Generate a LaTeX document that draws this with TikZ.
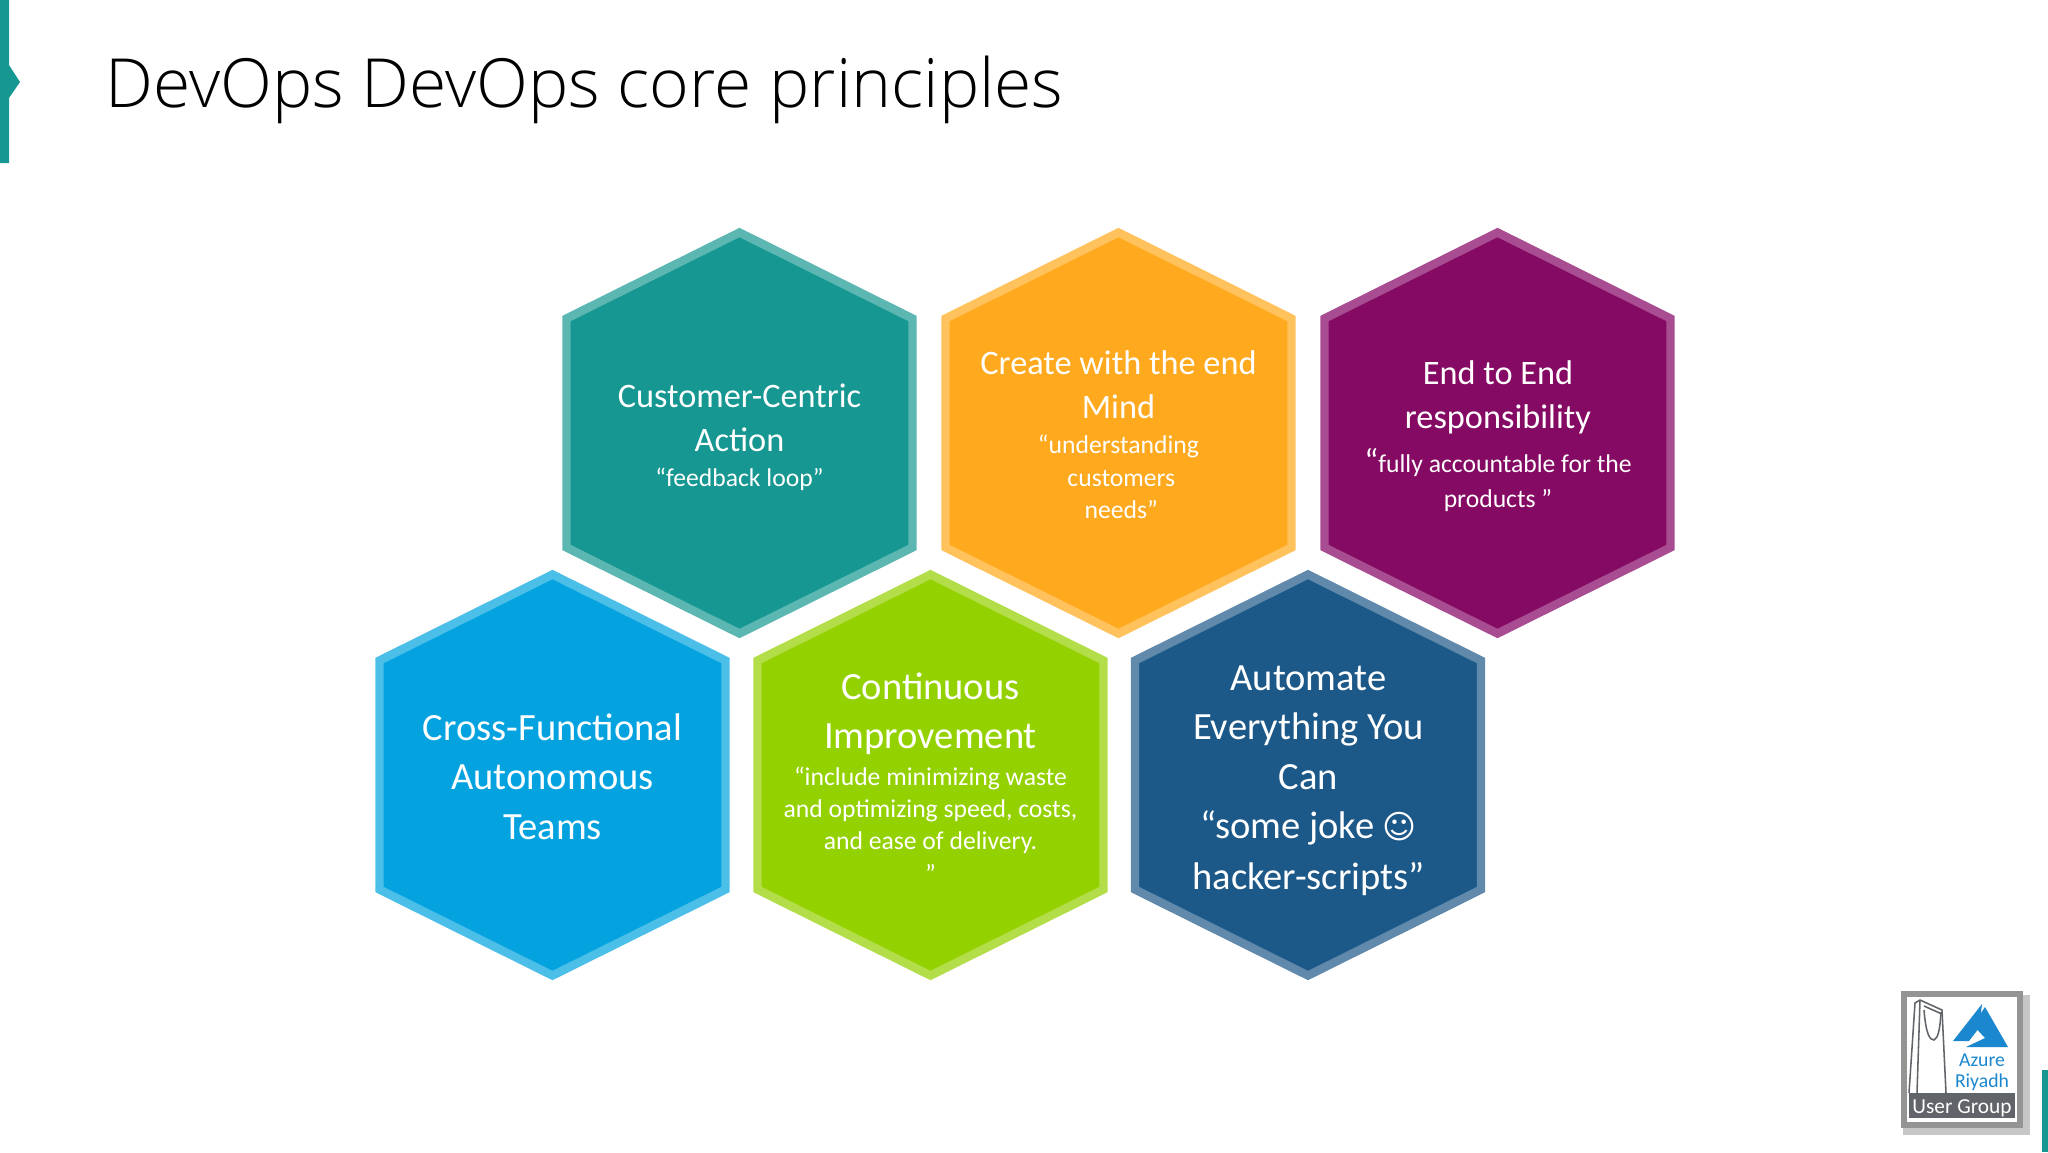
\documentclass[tikz,border=0pt]{standalone}
\usepackage{fontspec}
\setmainfont{Carlito}
\newfontfamily\titlefont{Open Sans Light}
\newfontfamily\smileyfont{DejaVu Sans}
\definecolor{custCol}{HTML}{169792}
\definecolor{custEdge}{HTML}{5CB6B2}
\definecolor{endCol}{HTML}{FFA91F}
\definecolor{endEdge}{HTML}{FFC25C}
\definecolor{respCol}{HTML}{850A64}
\definecolor{respEdge}{HTML}{A94D92}
\definecolor{crossCol}{HTML}{04A3E0}
\definecolor{crossEdge}{HTML}{4CBFE9}
\definecolor{contCol}{HTML}{94D100}
\definecolor{contEdge}{HTML}{B3DE4A}
\definecolor{autoCol}{HTML}{1C5888}
\definecolor{autoEdge}{HTML}{6089AB}
\definecolor{azureBlue}{HTML}{1A87CE}
\definecolor{logoGrey}{HTML}{616469}
\newcommand{\headM}{\fontsize{12.2}{15}\selectfont}
\newcommand{\headL}{\fontsize{13.7}{17}\selectfont}
\newcommand{\subS}{\fontsize{9.12}{11}\selectfont}
\tikzset{
  hexcell/.style={line width=3pt,miter limit=10,line join=miter},
  hextext/.style={text=white,align=center,inner sep=0pt},
  logotext/.style={text=azureBlue,inner sep=0pt,font=\fontsize{7}{8}\selectfont},
  towerline/.style={draw=logoGrey,line width=0.55pt}
}
\begin{document}
\begin{tikzpicture}[x=0.0125cm,y=-0.0125cm]
\useasboundingbox (0,0) rectangle (2048,1152);
% slide marks
\fill[custCol] (0,0) -- (9,0) -- (9,65) -- (20,82) -- (9,98) -- (9,163) -- (0,163) -- cycle;
\fill[custCol] (2042,1070) rectangle (2048,1152);
\node[anchor=base west,inner sep=0pt,font=\titlefont\fontsize{24.1}{29}\selectfont] (title) at (105,107) {DevOps DevOps core principles};
% hexagons
\foreach \px/\py/\hue in {739.5/433/cust,1118.5/433/end,1497.5/433/resp,552.5/775/cross,930.5/775/cont,1308/775/auto}
  \draw[hexcell,fill=\hue Col,draw=\hue Edge] (\px,\py-200.5) -- (\px+173,\py-114.5) -- (\px+173,\py+114.5) -- (\px,\py+200.5) -- (\px-173,\py+114.5) -- (\px-173,\py-114.5) -- cycle;

\node[hextext] (cust) at (739.5,437) {\headM Customer-Centric\\[3.7pt]\headM Action\\[0.5pt]\subS “feedback loop”};
\node[hextext] (end) at (1118.5,434.7) {\headM Create with the end\\[3.5pt]\headM Mind\\[0.7pt]\subS “understanding\\[-0.5pt]\subS\hspace*{2pt}customers\\[-0.5pt]\subS\hspace*{2pt}needs”};
\node[hextext] (resp) at (1498,436) {\headM End to End\\[3.7pt]\headM responsibility\\[3.5pt]\subS {\fontsize{11.9}{11}\selectfont “}fully accountable for the\\[0.5pt]\subS products ”};
\node[hextext] (cross) at (552.5,776.5) {\headL Cross-Functional\\[5.6pt]\headL Autonomous\\[5.6pt]\headL Teams};
\node[hextext] (cont) at (930.5,777.3) {\headL Continuous\\[5.6pt]\headL Improvement\\[0.9pt]\subS “include minimizing waste\\[-0.5pt]\subS and optimizing speed, costs,\\[-0.5pt]\subS and ease of delivery.\\[-0.5pt]\subS ”};
\node[hextext] (auto) at (1308.5,780.5) {\headL Automate\\[5.6pt]\headL Everything You\\[5.6pt]\headL Can\\[5.6pt]\headL “some joke {\smileyfont\fontsize{11.6}{17}\selectfont ☺}\\[4.8pt]\headL hacker-scripts”};
% logo
\fill[black!22] (1903,995) rectangle (2030,1135);
\fill[black!42] (1901,991) rectangle (2023,1128);
\fill[white] (1907,997) rectangle (2017,1122);
\draw[towerline] (1909,1093) -- (1915,1003) -- (1920,1000) -- (1942,1010) -- (1946,1093);
\draw[towerline] (1917,1093) -- (1920,1000);
\draw[towerline] (1924,1006) -- (1942,1014);
\draw[towerline] (1924,1010) .. controls (1926,1035) and (1930,1040) .. (1934,1040) .. controls (1938,1038) and (1940,1030) .. (1941,1012);
\fill[azureBlue] (1982,1004) -- (1953,1041) -- (1969,1041) -- (1979,1028) -- cycle;
\fill[azureBlue] (1985,1007) -- (1973,1025) -- (1985,1038) -- (1966,1047) -- (2008,1047) -- cycle;
\node[logotext] (azure) at (1982,1060) {Azure};
\node[logotext] (riyadh) at (1982,1082) {Riyadh};
\node[fill=logoGrey,text=white,inner sep=0pt,minimum width=37.7pt,minimum height=9.1pt,text height=7pt,text depth=1pt,font=\fontsize{7.6}{9}\selectfont] (group) at (1962,1105.5) {User Group};
\end{tikzpicture}
\end{document}
